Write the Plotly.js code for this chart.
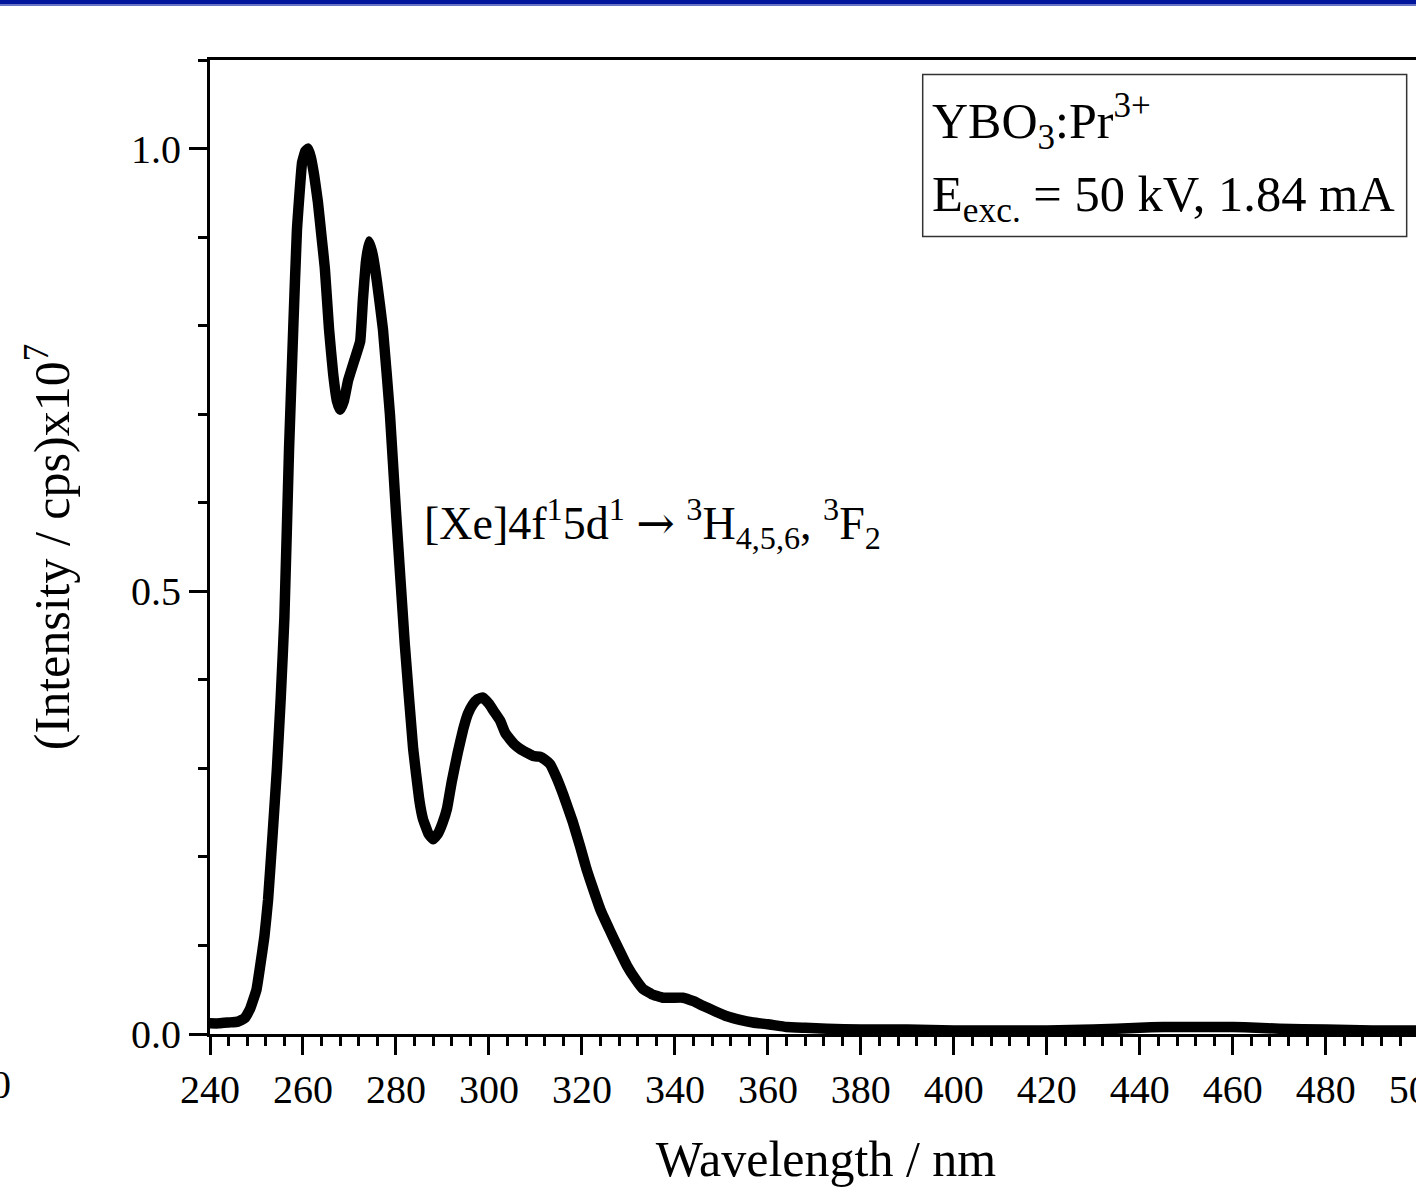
<!DOCTYPE html>
<html>
<head>
<meta charset="utf-8">
<script src="https://cdn.plot.ly/plotly-3.0.1.min.js"></script>
<style>
  html, body { margin: 0; padding: 0; background: #ffffff; overflow: hidden; width: 1416px; height: 1188px; }
  #band { position: absolute; left: 0; top: 0; width: 1416px; height: 4px; background: #00149c; border-bottom: 2px solid #6874c6; z-index: 5; }
  #chart { position: absolute; left: 0; top: 0; width: 1500px; height: 1188px; }
</style>
</head>
<body>
<div id="band"></div>
<div id="chart"></div>
<script>
// Wavelength (nm)
const wavelength = [240,242,244,246,247.5,248.6,250,250.8,251.7,252.5,253.5,254.4,255.2,256,257,257.9,258.7,259.8,260.5,261.1,261.7,262.4,263.2,264,264.7,265.6,266.5,267.3,268,268.8,269.7,271,272.3,272.9,273.5,274.2,275,275.9,277.2,278.7,280,281.9,283.7,285,285.8,287,288,289,290,291,292,293.3,294.5,295.5,296.5,297.5,298.7,300,301,302.4,303.5,304.5,305.5,306.7,308,309.5,311,312,313.1,314.5,316,318,319.6,321,322.4,324,326,328,329.7,331.5,333.1,335,337.4,339.5,341.7,344,346,348.5,351.2,354,356.8,360,364,368,372.7,380,390,400,410,420,430,440,445,450,455,460,465,470,480,490,500,505];
// Intensity (cps) x 10^7
const intensity = [0.012,0.012,0.013,0.014,0.018,0.028,0.05,0.077,0.11,0.152,0.228,0.30,0.378,0.47,0.66,0.796,0.908,0.984,0.997,1.0,0.99,0.97,0.94,0.90,0.865,0.796,0.745,0.715,0.705,0.715,0.738,0.76,0.782,0.83,0.87,0.895,0.88,0.85,0.796,0.70,0.59,0.44,0.322,0.265,0.243,0.226,0.22,0.226,0.238,0.255,0.285,0.318,0.345,0.362,0.372,0.378,0.38,0.373,0.365,0.354,0.34,0.333,0.327,0.322,0.318,0.314,0.313,0.31,0.305,0.29,0.27,0.24,0.212,0.186,0.164,0.14,0.117,0.095,0.077,0.062,0.051,0.045,0.041,0.041,0.041,0.037,0.032,0.026,0.02,0.016,0.013,0.011,0.008,0.007,0.006,0.005,0.005,0.004,0.004,0.004,0.005,0.007,0.008,0.008,0.008,0.008,0.007,0.006,0.005,0.004,0.004,0.004];

const xTickVals = [240,260,280,300,320,340,360,380,400,420,440,460,480,500];
const yTickVals = [0, 0.5, 1.0];
const yTickText = ['0.0', '0.5', '1.0'];

const serif = 'Liberation Serif, Times New Roman, serif';

const trace = {
  x: wavelength,
  y: intensity,
  type: 'scatter',
  mode: 'lines',
  line: { color: '#000000', width: 10.5, shape: 'spline', smoothing: 0.3 },
  hoverinfo: 'skip'
};

const layout = {
  width: 1500,
  height: 1188,
  margin: { l: 210, r: 58, t: 60, b: 154 },
  paper_bgcolor: '#ffffff',
  plot_bgcolor: '#ffffff',
  showlegend: false,
  font: { family: serif, color: '#000000', size: 40 },
  xaxis: {
    range: [240, 505],
    tickmode: 'array',
    tickvals: xTickVals,
    ticks: 'outside',
    ticklen: 18,
    tickwidth: 3,
    tickcolor: '#000000',
    showline: true,
    linewidth: 3,
    linecolor: '#000000',
    mirror: true,
    showgrid: false,
    zeroline: false,
    tickfont: { family: serif, size: 40, color: '#000000' },
    minor: { dtick: 4, tick0: 240, ticks: 'outside', ticklen: 9, tickwidth: 3, tickcolor: '#000000', showgrid: false },
    title: { text: 'Wavelength / nm', font: { family: serif, size: 50, color: '#000000' }, standoff: 30 }
  },
  yaxis: {
    range: [0, 1.1],
    tickmode: 'array',
    tickvals: yTickVals,
    ticktext: yTickText,
    ticks: 'outside',
    ticklen: 18,
    tickwidth: 3,
    tickcolor: '#000000',
    showline: true,
    linewidth: 3,
    linecolor: '#000000',
    mirror: true,
    showgrid: false,
    zeroline: false,
    tickfont: { family: serif, size: 40, color: '#000000' },
    minor: { dtick: 0.1, tick0: 0, ticks: 'outside', ticklen: 9, tickwidth: 3, tickcolor: '#000000', showgrid: false },
    title: { text: '(Intensity / cps)x10<sup>7</sup>', font: { family: serif, size: 50, color: '#000000' }, standoff: 46 }
  },
  shapes: [
    { type: 'rect', xref: 'x', yref: 'y', x0: 393.3, x1: 497.4, y0: 0.9006, y1: 1.0836,
      line: { color: '#333333', width: 1.5 }, fillcolor: 'rgba(0,0,0,0)' }
  ],
  annotations: [
    { xref: 'x', yref: 'y', x: 394.9, y: 1.031, xanchor: 'left', yanchor: 'middle', showarrow: false,
      text: 'YBO<sub>3</sub>:Pr<sup>3+</sup>', font: { family: serif, size: 50, color: '#000000' } },
    { xref: 'x', yref: 'y', x: 394.9, y: 0.944, xanchor: 'left', yanchor: 'middle', showarrow: false,
      text: 'E<sub>exc.</sub> = 50 kV, 1.84 mA', font: { family: serif, size: 50.5, color: '#000000' } },
    { xref: 'x', yref: 'y', x: 285.6, y: 0.576, xanchor: 'left', yanchor: 'middle', showarrow: false,
      text: '[Xe]4f<sup>1</sup>5d<sup>1</sup> <span style="font-family:DejaVu Serif">\u2192</span> <sup>3</sup>H<sub>4,5,6</sub>, <sup>3</sup>F<sub>2</sub>',
      font: { family: serif, size: 46, color: '#000000' } },
    { xref: 'paper', yref: 'paper', x: -0.16, y: -0.052, xanchor: 'right', yanchor: 'middle', showarrow: false,
      text: '0', font: { family: serif, size: 40, color: '#000000' } }
  ]
};

Plotly.newPlot('chart', [trace], layout, { displayModeBar: false, staticPlot: true });
</script>
</body>
</html>
